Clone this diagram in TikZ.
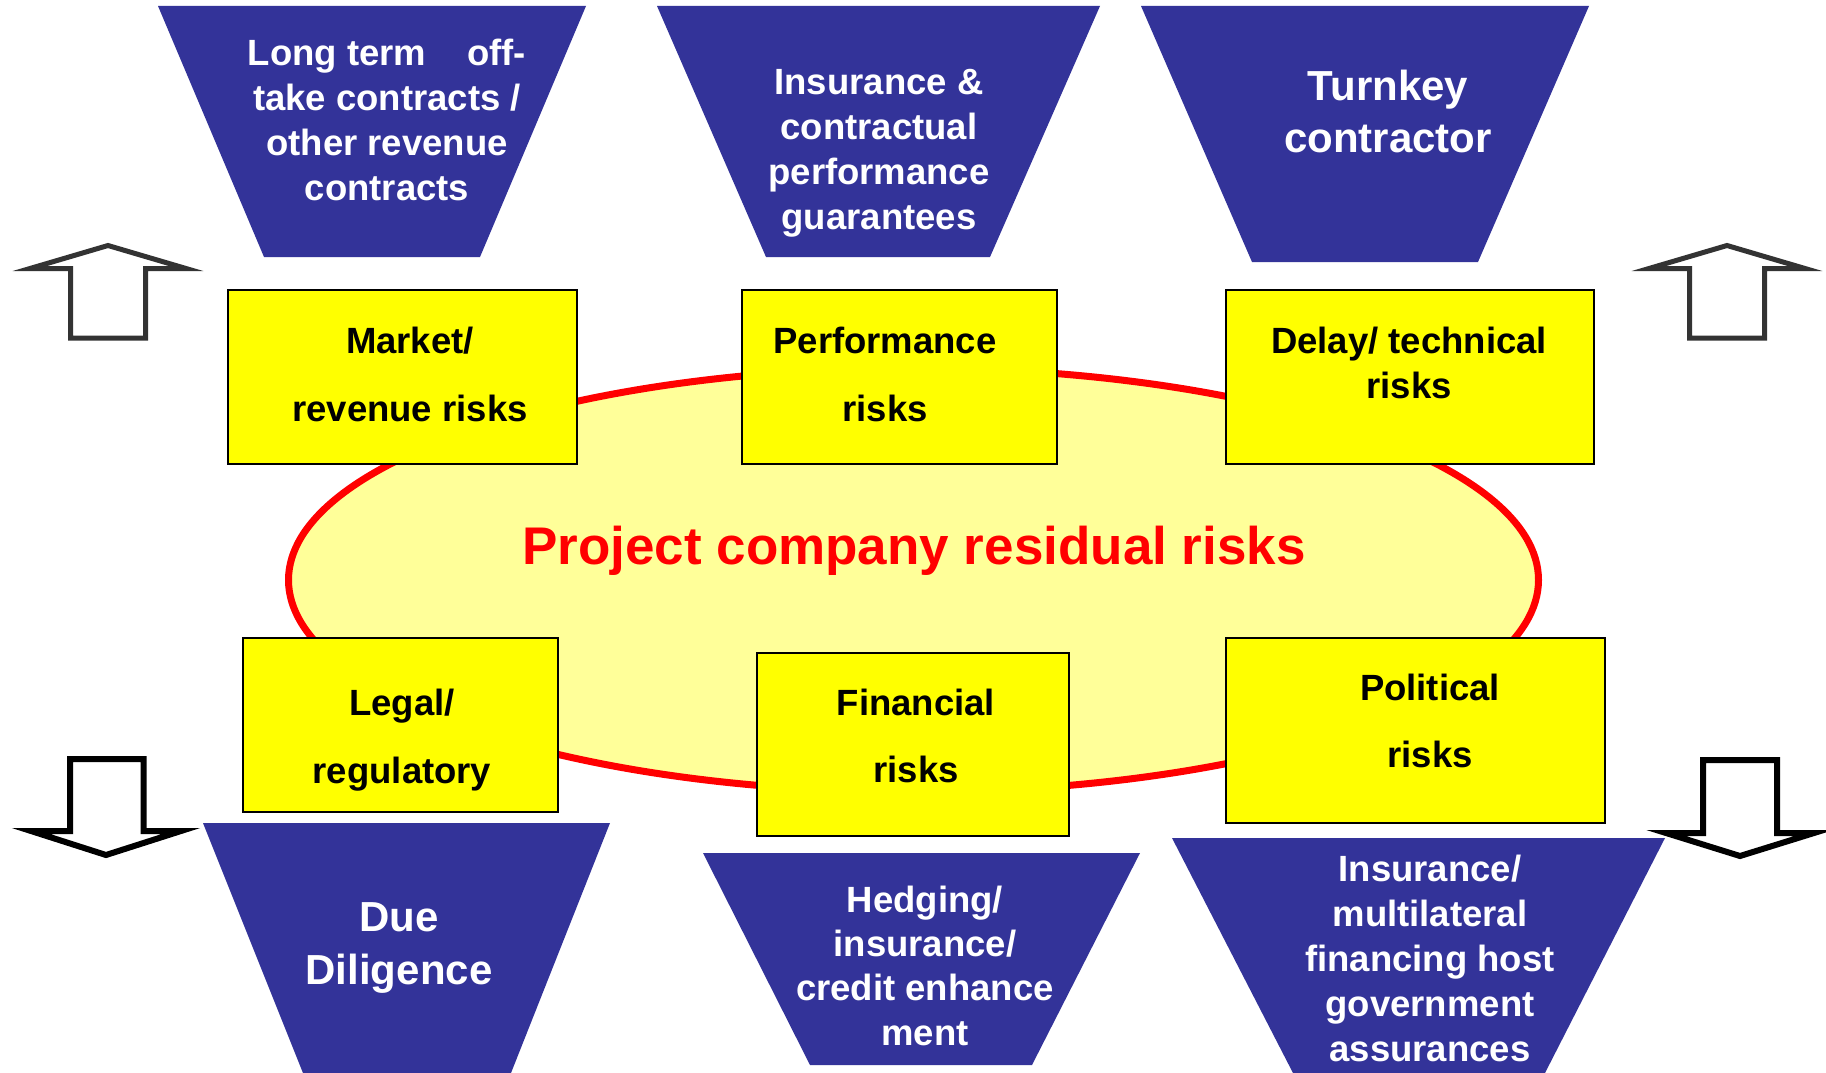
\documentclass[tikz,border=0pt]{standalone}
\usepackage{fontspec}
\setmainfont{Liberation Sans}
\definecolor{trapblue}{HTML}{333399}
\definecolor{boxyellow}{HTML}{FFFF00}
\definecolor{ellyellow}{HTML}{FFFF99}
\definecolor{arrowgray}{HTML}{333333}
\tikzset{
  trap/.style={fill=trapblue},
  bluetxt/.style={text=white, align=center, inner sep=0pt, font=\bfseries\fontsize{36.5}{45}\selectfont},
  bigbluetxt/.style={text=white, align=center, inner sep=0pt, font=\bfseries\fontsize{42}{53}\selectfont},
  ybox/.style={draw=black, line width=2.5pt, fill=boxyellow, inner sep=0pt},
  ytxt/.style={text=black, align=center, inner sep=0pt, font=\bfseries\fontsize{36.5}{68}\selectfont},
  uparrow/.style={draw=arrowgray, line width=5pt, fill=white, line join=miter, miter limit=20},
  downarrow/.style={draw=black, line width=6pt, fill=white, line join=miter, miter limit=20},
}
\begin{document}
\begin{tikzpicture}[x=1pt,y=-1pt]
\useasboundingbox[fill=white] (0,0) rectangle (1826,1073);

% central ellipse
\draw[draw=red, line width=7pt, fill=ellyellow] (913.5,580) ellipse [x radius=625pt, y radius=212pt];
\node[text=red, inner sep=0pt, font=\bfseries\fontsize{53}{60}\selectfont] (title) at (914,551) {Project company residual risks};

% top trapezoids
\fill[trap] (158,6) -- (586,6) -- (480,257) -- (264,257) -- cycle;
\fill[trap] (657,6) -- (1100,6) -- (990,257) -- (766,257) -- cycle;
\fill[trap] (1141,6) -- (1589,6) -- (1478,262) -- (1252,262) -- cycle;
\node[bluetxt] (offtake) at (387,119.5) {Long term\hspace*{41pt}off-\\take contracts /\\other revenue\\contracts};
\node[bluetxt] (insur) at (879,153.4) {Insurance \&\\contractual\\performance\\guarantees};
\node[bigbluetxt, font=\bfseries\fontsize{42}{52}\selectfont] (turnkey) at (1388,111) {Turnkey\\contractor};

% bottom trapezoids
\fill[trap] (203,823) -- (610,823) -- (511,1073) -- (303,1073) -- cycle;
\fill[trap] (703,853) -- (1140,853) -- (1032,1065) -- (810,1065) -- cycle;
\fill[trap] (1172,838) -- (1665,838) -- (1545,1073) -- (1293,1073) -- cycle;
\node[bigbluetxt] (due) at (399,948) {Due\\Diligence};
\node[bluetxt, font=\bfseries\fontsize{36.5}{44.3}\selectfont] (hedg) at (925,965.5) {Hedging/\\insurance/\\credit enhance\\ment};
\node[bluetxt, font=\bfseries\fontsize{36.5}{45.2}\selectfont] (multi) at (1430,958.4) {Insurance/\\multilateral\\financing host\\government\\assurances};

% yellow risk boxes
\node[ybox, minimum width=349pt, minimum height=174pt] (market) at (402.5,377) {};
\node[ybox, minimum width=315pt, minimum height=174pt] (perf) at (899.5,377) {};
\node[ybox, minimum width=368pt, minimum height=174pt] (delay) at (1410,377) {};
\node[ybox, minimum width=315pt, minimum height=174pt] (legal) at (400.5,725) {};
\node[ybox, minimum width=312pt, minimum height=183pt] (fin) at (913,744.5) {};
\node[ybox, minimum width=379pt, minimum height=185pt] (pol) at (1415.5,730.5) {};

\node[ytxt] (markettxt) at (410,374) {Market/\\revenue risks};
\node[ytxt] (perftxt) at (885,374) {Performance\\risks};
\node[ytxt, font=\bfseries\fontsize{36.5}{45}\selectfont] (delaytxt) at (1409,362.5) {Delay/ technical\\risks};
\node[ytxt] (legaltxt) at (402,740) {Legal/\\regulatory};
\node[ytxt, font=\bfseries\fontsize{36.5}{67}\selectfont] (fintxt) at (916,735.5) {Financial\\risks};
\node[ytxt, font=\bfseries\fontsize{36.5}{67}\selectfont] (poltxt) at (1430,720.5) {Political\\risks};

% block arrows
\draw[uparrow] (70.5,338) -- (70.5,268.5) -- (30,268.5) -- (108,245.5) -- (186,268.5) -- (145.5,268.5) -- (145.5,338) -- cycle;
\draw[uparrow] (1689.5,338) -- (1689.5,268.5) -- (1649,268.5) -- (1727,245.5) -- (1805,268.5) -- (1764.5,268.5) -- (1764.5,338) -- cycle;
\draw[downarrow] (70,759) -- (143.5,759) -- (143.5,831) -- (181,831) -- (106,855) -- (31,831) -- (70,831) -- cycle;
\draw[downarrow] (1703,760) -- (1777,760) -- (1777,833) -- (1814,833) -- (1740,856) -- (1666,833) -- (1703,833) -- cycle;
\end{tikzpicture}
\end{document}
